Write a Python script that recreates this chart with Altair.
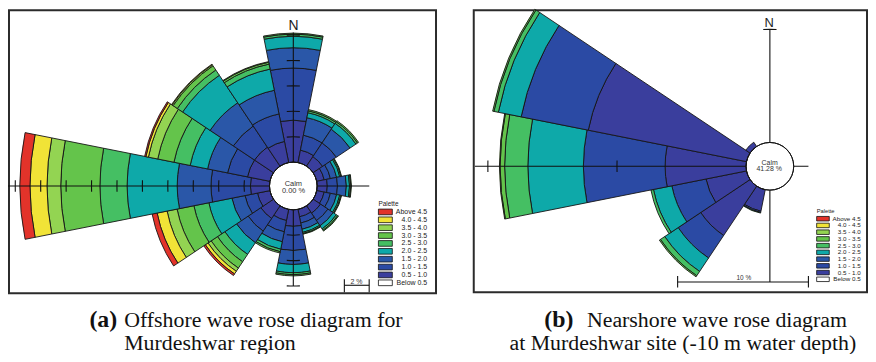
import math
import altair as alt
import pandas as pd

# ---------------------------------------------------------------- data
directions = ["N", "NNE", "NE", "ENE", "E", "ESE", "SE", "SSE",
              "S", "SSW", "SW", "WSW", "W", "WNW", "NW", "NNW"]
bearings = [0.0, 22.5, 45.0, 67.5, 90.0, 112.5, 135.0, 157.5,
            180.0, 202.5, 225.0, 247.5, 270.0, 292.5, 315.0, 337.5]
speed_classes = ["0.5 - 1.0", "1.0 - 1.5", "1.5 - 2.0", "2.0 - 2.5", "2.5 - 3.0",
                 "3.0 - 3.5", "3.5 - 4.0", "4.0 - 4.5", "Above 4.5"]
palette_labels = ["Above 4.5", "4.0 - 4.5", "3.5 - 4.0", "3.0 - 3.5", "2.5 - 3.0",
                  "2.0 - 2.5", "1.5 - 2.0", "1.0 - 1.5", "0.5 - 1.0", "Below 0.5"]
palette_colors = ["#e2332a", "#f1e337", "#93d452", "#64c44b", "#45bf63",
                  "#0ea9a9", "#2a57a8", "#2b4aa4", "#3a3e9d", "#ffffff"]

# (a) Offshore: % occurrence of each wave-height class, per direction
off_N   = [3.30, 4.10, 1.60, 0.90, 0.17, 0.08, 0.00, 0.00, 0.00]
off_NNE = [1.00, 1.20, 1.40, 0.40, 0.15, 0.10, 0.00, 0.00, 0.00]
off_NE  = [0.90, 1.30, 1.30, 0.55, 0.15, 0.10, 0.00, 0.00, 0.00]
off_ENE = [0.60, 0.50, 0.50, 0.25, 0.10, 0.05, 0.00, 0.00, 0.00]
off_E   = [0.80, 0.80, 0.70, 0.25, 0.10, 0.05, 0.00, 0.00, 0.00]
off_ESE = [0.60, 0.50, 0.50, 0.25, 0.10, 0.05, 0.00, 0.00, 0.00]
off_SE  = [0.70, 0.70, 0.50, 0.30, 0.13, 0.07, 0.00, 0.00, 0.00]
off_SSE = [0.60, 0.50, 0.50, 0.25, 0.10, 0.05, 0.00, 0.00, 0.00]
off_S   = [1.30, 1.90, 1.10, 0.65, 0.15, 0.10, 0.00, 0.00, 0.00]
off_SSW = [0.90, 0.90, 0.80, 0.60, 0.20, 0.10, 0.00, 0.00, 0.00]
off_SW  = [1.20, 1.20, 1.10, 1.10, 0.70, 0.60, 0.30, 0.25, 0.15]
off_WSW = [1.00, 1.00, 1.05, 1.85, 1.20, 1.35, 0.80, 0.80, 0.40]
off_W   = [1.50, 3.10, 2.66, 3.94, 2.14, 3.08, 1.08, 1.34, 0.80]
off_WNW = [1.80, 1.60, 1.60, 1.40, 1.30, 1.30, 0.75, 0.20, 0.10]
off_NW  = [1.80, 2.00, 2.20, 2.60, 0.50, 0.40, 0.10, 0.05, 0.00]
off_NNW = [1.70, 2.20, 1.90, 1.70, 0.40, 0.15, 0.05, 0.00, 0.00]
off_calm = "0.00 %"

# (b) Nearshore (-10 m): % occurrence per direction
near_SSW = [1.70, 0.10, 0.00, 0.00, 0.05, 0.00, 0.00, 0.00, 0.00]
near_SW  = [4.60, 2.10, 0.00, 1.25, 0.40, 0.10, 0.00, 0.00, 0.00]
near_WSW = [3.20, 2.70, 0.00, 1.45, 0.20, 0.00, 0.00, 0.00, 0.00]
near_W   = [6.27, 6.33, 0.00, 4.30, 1.80, 0.35, 0.05, 0.00, 0.00]
near_WNW = [12.50, 5.30, 0.00, 1.80, 0.35, 0.10, 0.00, 0.00, 0.00]
near_NW  = [0.40, 0.00, 0.00, 0.00, 0.00, 0.00, 0.00, 0.00, 0.00]
near_calm = "41.28 %"

offshore = dict(zip(directions, [off_N, off_NNE, off_NE, off_ENE, off_E, off_ESE,
                                 off_SE, off_SSE, off_S, off_SSW, off_SW, off_WSW,
                                 off_W, off_WNW, off_NW, off_NNW]))
nearshore = {"SSW": near_SSW, "SW": near_SW, "WSW": near_WSW,
             "W": near_W, "WNW": near_WNW, "NW": near_NW}


def sector_table(table):
    rows = []
    for d, b in zip(directions, bearings):
        vals = table.get(d)
        if not vals:
            continue
        cum = 0.0
        for cls, v in zip(speed_classes, vals):
            if v <= 0:
                continue
            rows.append(dict(dir=d, t0=b - 11.25, t1=b + 11.25,
                             r0=cum, r1=cum + v, cls=cls))
            cum += v
    return pd.DataFrame(rows)


THETA = alt.Scale(domain=[0, 360], range=[0, 2 * math.pi])
COLOR = alt.Scale(domain=palette_labels, range=palette_colors)
SANS = "Liberation Sans, Arial, sans-serif"
SERIF = "Liberation Serif, Times New Roman, serif"
INK = "#151515"


def radial_scale(r0px, k, dmax=25):
    return alt.Scale(type="linear", domain=[0, dmax], range=[r0px, r0px + k * dmax])


def rose_layers(df, cx, cy, r0px, k, axes, ticks):
    rs = radial_scale(r0px, k)
    pos = dict(x=alt.value(cx), y=alt.value(cy))
    sectors = alt.Chart(df).mark_arc(stroke=INK, strokeWidth=0.9).encode(
        theta=alt.Theta("t0:Q", scale=THETA, stack=False),
        theta2="t1:Q",
        radius=alt.Radius("r1:Q", scale=rs, stack=False),
        radius2="r0:Q",
        color=alt.Color("cls:N", scale=COLOR, legend=None),
        **pos)
    axes_df = pd.DataFrame([dict(b=b, r0=0.0, r1=e) for b, e in axes])
    axis_lines = alt.Chart(axes_df).mark_arc(stroke="#111111", strokeWidth=1.1,
                                             fillOpacity=0).encode(
        theta=alt.Theta("b:Q", scale=THETA, stack=False),
        theta2="b:Q",
        radius=alt.Radius("r1:Q", scale=rs, stack=False),
        radius2="r0:Q",
        **pos)
    trows = []
    for b, pcts, half in ticks:
        for p in pcts:
            d = math.degrees(half / (r0px + k * p))
            trows.append(dict(t0=b - d, t1=b + d, r=p))
    tick_marks = alt.Chart(pd.DataFrame(trows)).mark_arc(
        stroke="#111111", strokeWidth=1.1, fillOpacity=0).encode(
        theta=alt.Theta("t0:Q", scale=THETA, stack=False),
        theta2="t1:Q",
        radius=alt.Radius("r:Q", scale=rs, stack=False),
        radius2="r:Q",
        **pos)
    calm = alt.Chart(pd.DataFrame({"t0": [0.0], "t1": [360.0], "r": [0.0]})).mark_arc(
        fill="white", stroke=INK, strokeWidth=1).encode(
        theta=alt.Theta("t0:Q", scale=THETA, stack=False),
        theta2="t1:Q",
        radius=alt.Radius("r:Q", scale=rs, stack=False),
        **pos)
    return [sectors, axis_lines, tick_marks, calm]


def text(t, x, y, size, font=SANS, color="#222222", align="center",
         baseline="middle", weight="normal"):
    return alt.Chart(pd.DataFrame({"t": [t]})).mark_text(
        x=x, y=y, fontSize=size, font=font, color=color, align=align,
        baseline=baseline, fontWeight=weight).encode(text="t:N")


def rule(x1, y1, x2, y2, w=1.1, color="#111111"):
    return alt.Chart(pd.DataFrame({"a": [0]})).mark_rule(
        color=color, strokeWidth=w).encode(
        x=alt.value(x1), y=alt.value(y1), x2=alt.value(x2), y2=alt.value(y2))


def frame(x1, y1, x2, y2):
    return alt.Chart(pd.DataFrame({"a": [0]})).mark_rect(
        fillOpacity=0, stroke="#2b2b2b", strokeWidth=2).encode(
        x=alt.value(x1), y=alt.value(y1), x2=alt.value(x2), y2=alt.value(y2))


def legend(xl, top, step, pad, sw, label_right, size, title_y):
    n = len(palette_labels)
    span = step * (n - pad)
    ys = alt.Scale(type="band", domain=palette_labels, range=[top, top + span],
                   paddingInner=pad, paddingOuter=0)
    ldf = pd.DataFrame({"label": palette_labels})
    boxes = alt.Chart(ldf).mark_rect(stroke="#111111", strokeWidth=0.8).encode(
        y=alt.Y("label:N", scale=ys, axis=None),
        x=alt.value(xl), x2=alt.value(xl + sw),
        color=alt.Color("label:N", scale=COLOR, legend=None))
    labels = alt.Chart(ldf).mark_text(
        align="right", baseline="middle", fontSize=size, font=SANS,
        color="#222222").encode(
        y=alt.Y("label:N", scale=ys, axis=None),
        x=alt.value(label_right), text="label:N")
    title = text("Palette", xl, title_y, size - 0.5, align="left")
    return [boxes, labels, title]


layers = []

# ---------------- (a) offshore panel
layers.append(frame(1, 1, 431, 286))
L_CX, L_CY, L_R0, L_K = 287.3, 178.0, 24.0, 12.8
layers += rose_layers(
    sector_table(offshore), L_CX, L_CY, L_R0, L_K,
    axes=[(270.0, 20.6), (0.0, 10.2), (180.0, 6.0), (90.0, 4.1)],
    ticks=[(270.0, [2, 4, 6, 8, 10, 12, 14, 16, 18, 20], 5.8),
           (0.0, [2, 4, 6, 8, 10], 6.6),
           (180.0, [2, 4, 6], 6.6)])
layers.append(text("N", 287.5, 16.5, 14))
layers.append(text("Calm", 287.3, 175.8, 7.5, color="#333333"))
layers.append(text(off_calm, 287.5, 183.2, 7.5, color="#333333"))
layers.append(rule(338.7, 278, 363.7, 278))
layers.append(rule(338.7, 272, 338.7, 285))
layers.append(rule(363.7, 272, 363.7, 285))
layers.append(text("2 %", 351.0, 274.3, 7, color="#333333"))
layers += legend(373, 201.3, 7.93, 0.28, 14, 422, 7, 195.7)

# ---------------- (b) nearshore panel
layers.append(frame(469, 1, 865, 285))
R_CX, R_CY, R_R0, R_K = 767.2, 158.2, 24.0, 13.0
layers += rose_layers(
    sector_table(nearshore), R_CX, R_CY, R_R0, R_K,
    axes=[(270.0, 21.0), (0.0, 8.76), (180.0, 7.12), (90.0, 1.14)],
    ticks=[(270.0, [10, 20], 5.8), (0.0, [8.76], 6.7)])
layers.append(text("N", 766.5, 13.5, 13))
layers.append(text("Calm", 767.0, 155.2, 7, color="#333333"))
layers.append(text(near_calm, 766.5, 161.2, 7, color="#333333"))
layers.append(rule(674.3, 274.7, 806.0, 274.7))
layers.append(rule(674.3, 268.7, 674.3, 280.3))
layers.append(rule(806.0, 268.7, 806.0, 280.3))
layers.append(text("10 %", 741.0, 270.5, 6.5, color="#333333"))
layers += legend(814.3, 208.7, 6.78, 0.33, 12.7, 858.7, 6.3, 203.3)

# ---------------- captions
layers.append(text("(a)", 82, 320, 24, font=SERIF, color="#111111",
                   align="left", baseline="alphabetic", weight="bold"))
layers.append(text("Offshore wave rose diagram for", 117, 320, 22, font=SERIF,
                   color="#111111", align="left", baseline="alphabetic"))
layers.append(text("Murdeshwar region", 117, 343, 22, font=SERIF,
                   color="#111111", align="left", baseline="alphabetic"))
layers.append(text("(b)", 540, 320, 24, font=SERIF, color="#111111",
                   align="left", baseline="alphabetic", weight="bold"))
layers.append(text("Nearshore wave rose diagram", 583, 320, 22, font=SERIF,
                   color="#111111", align="left", baseline="alphabetic"))
layers.append(text("at Murdeshwar site (-10 m water depth)", 505, 343, 22,
                   font=SERIF, color="#111111", align="left",
                   baseline="alphabetic"))

chart = alt.layer(*layers).resolve_scale(
    radius="independent", y="independent"
).properties(
    width=866, height=346, padding=0,
    autosize=alt.AutoSizeParams(type="none"),
).configure_view(stroke="transparent")

chart.save("out.html", embed_options={"renderer": "svg", "actions": False})
